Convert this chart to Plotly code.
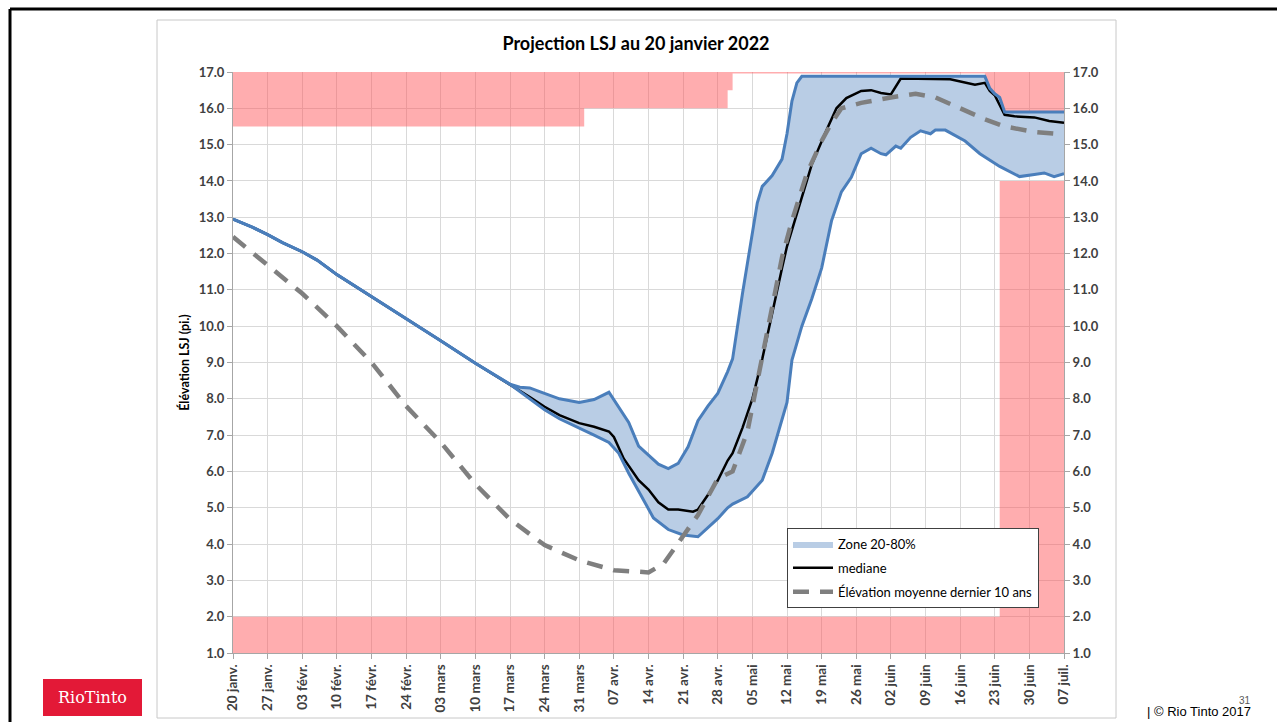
import plotly.graph_objects as go
import pandas as pd

# ---------------- data ----------------
title_text = "Projection LSJ au 20 janvier 2022"
y_title = "Élévation LSJ (pi.)"
x_start, x_end = "2022-01-20", "2022-07-07"
y_min, y_max = 1.0, 17.0

tick_dates = [d.strftime("%Y-%m-%d") for d in pd.date_range(x_start, x_end, freq="7D")]
tick_labels = ["20 janv.", "27 janv.", "03 févr.", "10 févr.", "17 févr.", "24 févr.",
               "03 mars", "10 mars", "17 mars", "24 mars", "31 mars", "07 avr.",
               "14 avr.", "21 avr.", "28 avr.", "05 mai", "12 mai", "19 mai",
               "26 mai", "02 juin", "09 juin", "16 juin", "23 juin", "30 juin", "07 juil."]

# upper red zone: lower edge of the forbidden zone (step function)
upper_lim_dates = ["2022-01-20", "2022-04-01", "2022-04-30", "2022-05-01", "2022-06-21", "2022-07-07"]
upper_lim_vals = [15.5, 16.0, 16.5, 16.96, 15.9, 15.9]
# lower red zone: upper edge of the forbidden zone (step function)
lower_lim_dates = ["2022-01-20", "2022-06-24", "2022-07-07"]
lower_lim_vals = [2.0, 14.0, 14.0]

common_dates = ["2022-01-20", "2022-01-24", "2022-01-27", "2022-01-30", "2022-02-03", "2022-02-06",
                "2022-02-10", "2022-02-17", "2022-02-24", "2022-03-03", "2022-03-10", "2022-03-17"]
common_vals = [12.95, 12.72, 12.52, 12.3, 12.05, 11.82, 11.42, 10.82, 10.22, 9.6, 8.98, 8.4]

p80_dates = common_dates + [
    "2022-03-19", "2022-03-21", "2022-03-23", "2022-03-27", "2022-03-31", "2022-04-03", "2022-04-06",
    "2022-04-08", "2022-04-10", "2022-04-12", "2022-04-14", "2022-04-16", "2022-04-18", "2022-04-20",
    "2022-04-22", "2022-04-24", "2022-04-26", "2022-04-28", "2022-04-30", "2022-05-01", "2022-05-03",
    "2022-05-05", "2022-05-06", "2022-05-07", "2022-05-09", "2022-05-11", "2022-05-12", "2022-05-13",
    "2022-05-14", "2022-05-15", "2022-06-21", "2022-06-22", "2022-06-23", "2022-06-24", "2022-06-25",
    "2022-07-07"]
p80_vals = common_vals + [
    8.32, 8.3, 8.2, 8.0, 7.9, 7.98, 8.18,
    7.75, 7.35, 6.7, 6.45, 6.2, 6.08, 6.22,
    6.68, 7.4, 7.8, 8.15, 8.75, 9.1, 10.9,
    12.6, 13.4, 13.85, 14.15, 14.6, 15.3, 16.2,
    16.7, 16.88, 16.88, 16.55, 16.4, 16.3, 15.9,
    15.9]

p20_dates = common_dates + [
    "2022-03-19", "2022-03-21", "2022-03-24", "2022-03-27", "2022-03-31", "2022-04-03", "2022-04-06",
    "2022-04-08", "2022-04-10", "2022-04-13", "2022-04-15", "2022-04-18", "2022-04-21", "2022-04-24",
    "2022-04-25", "2022-04-28", "2022-04-30", "2022-05-01", "2022-05-04", "2022-05-07", "2022-05-09",
    "2022-05-12", "2022-05-13", "2022-05-15", "2022-05-17", "2022-05-19", "2022-05-21", "2022-05-23",
    "2022-05-25", "2022-05-27", "2022-05-29", "2022-05-31", "2022-06-01", "2022-06-03", "2022-06-04",
    "2022-06-06", "2022-06-08", "2022-06-10", "2022-06-11", "2022-06-13", "2022-06-17", "2022-06-20",
    "2022-06-24", "2022-06-28", "2022-07-01", "2022-07-03", "2022-07-05", "2022-07-07"]
p20_vals = common_vals + [
    8.2, 8.0, 7.7, 7.45, 7.2, 7.0, 6.8,
    6.5, 5.95, 5.2, 4.72, 4.4, 4.25, 4.2,
    4.32, 4.7, 5.0, 5.1, 5.3, 5.76, 6.5,
    7.9, 9.07, 10.0, 10.75, 11.6, 12.9, 13.7,
    14.1, 14.75, 14.9, 14.75, 14.72, 14.96, 14.9,
    15.2, 15.38, 15.3, 15.4, 15.4, 15.1, 14.75,
    14.4, 14.12, 14.18, 14.22, 14.12, 14.2]

median_dates = common_dates + [
    "2022-03-19", "2022-03-21", "2022-03-24", "2022-03-27", "2022-03-31", "2022-04-03", "2022-04-06",
    "2022-04-07", "2022-04-09", "2022-04-12", "2022-04-14", "2022-04-16", "2022-04-18", "2022-04-20",
    "2022-04-23", "2022-04-24", "2022-04-26", "2022-04-28", "2022-04-30", "2022-05-01", "2022-05-03",
    "2022-05-05", "2022-05-07", "2022-05-09", "2022-05-11", "2022-05-12", "2022-05-14", "2022-05-17",
    "2022-05-20", "2022-05-22", "2022-05-24", "2022-05-27", "2022-05-29", "2022-05-31", "2022-06-02",
    "2022-06-03", "2022-06-04", "2022-06-14", "2022-06-17", "2022-06-19", "2022-06-21", "2022-06-22",
    "2022-06-23", "2022-06-25", "2022-06-27", "2022-07-01", "2022-07-04", "2022-07-07"]
median_vals = common_vals + [
    8.22, 8.05, 7.78, 7.55, 7.33, 7.23, 7.1,
    6.95, 6.35, 5.76, 5.5, 5.15, 4.95, 4.95,
    4.89, 4.95, 5.35, 5.75, 6.3, 6.5, 7.2,
    8.0, 9.1, 10.4, 11.6, 12.2, 13.1, 14.45,
    15.4, 16.0, 16.28, 16.48, 16.5, 16.42, 16.38,
    16.62, 16.82, 16.8, 16.72, 16.65, 16.7, 16.48,
    16.36, 15.82, 15.78, 15.75, 15.65, 15.6]

mean10_dates = ["2022-01-20", "2022-01-26", "2022-02-03", "2022-02-10", "2022-02-17", "2022-02-24",
                "2022-03-03", "2022-03-10", "2022-03-17", "2022-03-24", "2022-03-31", "2022-04-07",
                "2022-04-14", "2022-04-17", "2022-04-21", "2022-04-24", "2022-04-28", "2022-05-01",
                "2022-05-04", "2022-05-07", "2022-05-09", "2022-05-11", "2022-05-13", "2022-05-16",
                "2022-05-19", "2022-05-21", "2022-05-23", "2022-05-27", "2022-06-02", "2022-06-07",
                "2022-06-11", "2022-06-16", "2022-06-21", "2022-06-25", "2022-07-01", "2022-07-07"]
mean10_vals = [12.46, 11.8, 10.9, 10.0, 9.0, 7.8,
               6.8, 5.65, 4.68, 3.97, 3.55, 3.28,
               3.22, 3.45, 4.2, 4.8, 5.8, 6.0,
               7.1, 9.2, 10.6, 11.9, 12.9, 14.2,
               15.1, 15.6, 16.0, 16.15, 16.3, 16.4,
               16.3, 16.0, 15.7, 15.5, 15.35, 15.28]

# ---------------- styles ----------------
PINK = "rgba(255,80,84,0.47)"
BAND_FILL = "#b9cde5"
BAND_LINE = "#4a7ebb"
GRID = "#d9d9d9"
FONT = "Lato"

# pixel layout helpers (plot area in pixels)
W, H = 1277, 722
PL, PR, PT, PB = 233, 1064, 72, 653


def px(xp):
    return (xp - PL) / (PR - PL)


def py(yp):
    return (PB - yp) / (PB - PT)


fig = go.Figure()

# forbidden zones
fig.add_trace(go.Scatter(x=upper_lim_dates, y=[y_max] * len(upper_lim_dates), mode="lines",
                         line=dict(width=0, shape="hv"), showlegend=False, hoverinfo="skip"))
fig.add_trace(go.Scatter(x=upper_lim_dates, y=upper_lim_vals, mode="lines",
                         line=dict(width=0, shape="hv"), fill="tonexty", fillcolor=PINK,
                         showlegend=False, hoverinfo="skip"))
fig.add_trace(go.Scatter(x=lower_lim_dates, y=lower_lim_vals, mode="lines",
                         line=dict(width=0, shape="hv"), fill="tozeroy", fillcolor=PINK,
                         showlegend=False, hoverinfo="skip"))

# 20-80% band fill
fig.add_trace(go.Scatter(x=p80_dates, y=p80_vals, mode="lines", line=dict(width=0),
                         showlegend=False, hoverinfo="skip"))
fig.add_trace(go.Scatter(x=p20_dates, y=p20_vals, mode="lines", line=dict(width=0),
                         fill="tonexty", fillcolor=BAND_FILL, name="Zone 20-80%",
                         legendgroup="a", legendrank=1))
# median
fig.add_trace(go.Scatter(x=median_dates, y=median_vals, mode="lines",
                         line=dict(color="black", width=2.5), name="mediane",
                         legendgroup="b", legendrank=2))
# band borders
fig.add_trace(go.Scatter(x=p80_dates, y=p80_vals, mode="lines",
                         line=dict(color=BAND_LINE, width=3), showlegend=False))
fig.add_trace(go.Scatter(x=p20_dates, y=p20_vals, mode="lines",
                         line=dict(color=BAND_LINE, width=3), showlegend=False))
# 10-year mean
fig.add_trace(go.Scatter(x=mean10_dates, y=mean10_vals, mode="lines",
                         line=dict(color="#7f7f7f", width=4.5, dash="16px,11px"),
                         name="Élévation moyenne dernier 10 ans", legendgroup="c", legendrank=3))
# right axis carrier
fig.add_trace(go.Scatter(x=[x_start], y=[y_max], mode="none", yaxis="y2",
                         showlegend=False, hoverinfo="skip"))

y_tick_font = dict(family=FONT, size=13, color="#404040", weight="bold")
x_tick_font = dict(family=FONT, size=13.5, color="#404040", weight="bold")

shapes = [
    # chart frame
    dict(type="rect", xref="paper", yref="paper", x0=px(157), x1=px(1116), y0=py(718), y1=py(20),
         line=dict(color="#c8c8c8", width=1), layer="below"),
    # slide border lines
    dict(type="line", xref="paper", yref="paper", x0=px(10), x1=px(1280), y0=py(9), y1=py(9),
         line=dict(color="black", width=3)),
    dict(type="line", xref="paper", yref="paper", x0=px(10), x1=px(10), y0=py(9), y1=py(725),
         line=dict(color="black", width=3)),
    # logo box
    dict(type="rect", xref="paper", yref="paper", x0=px(43), x1=px(142), y0=py(716), y1=py(679),
         line=dict(width=0), fillcolor="#e31937"),
]

annotations = [
    dict(text="RioTinto", xref="paper", yref="paper", x=px(92.5), y=py(697.5), showarrow=False,
         font=dict(family="DejaVu Serif", size=16, color="white"), xanchor="center", yanchor="middle"),
    dict(text="| © Rio Tinto 2017", xref="paper", yref="paper", x=px(1145), y=py(711), showarrow=False,
         font=dict(family="Liberation Sans", size=13, color="black"), xanchor="left", yanchor="middle"),
    dict(text="31", xref="paper", yref="paper", x=px(1245), y=py(700), showarrow=False,
         font=dict(family="Liberation Sans", size=10, color="#595959"), xanchor="center", yanchor="middle"),
]

fig.update_layout(
    width=W, height=H,
    margin=dict(l=PL, r=W - PR, t=PT, b=H - PB, autoexpand=False),
    paper_bgcolor="white", plot_bgcolor="white",
    title=dict(text=title_text, x=636 / W, y=1 - 44 / H, xanchor="center", yanchor="middle",
               font=dict(family=FONT, size=18, color="black", weight="bold")),
    xaxis=dict(type="date", range=[x_start, x_end], tickvals=tick_dates, ticktext=tick_labels,
               tickangle=-90, tickfont=x_tick_font, showgrid=True, gridcolor=GRID, gridwidth=1,
               showline=True, linecolor="#a6a6a6", ticks="outside", ticklen=5, tickcolor="#a6a6a6",
               zeroline=False, automargin=False),
    yaxis=dict(range=[y_min, y_max], dtick=1, tickformat=".1f", tickfont=y_tick_font,
               showgrid=True, gridcolor=GRID, showline=True, linecolor="#a6a6a6",
               ticks="outside", ticklen=5, tickcolor="#a6a6a6", zeroline=False, automargin=False,
               title=dict(text=y_title, font=dict(family=FONT, size=12.5, color="black", weight="bold"),
                          standoff=6)),
    yaxis2=dict(range=[y_min, y_max], dtick=1, tickformat=".1f", tickfont=y_tick_font,
                overlaying="y", side="right", showgrid=False, showline=True, linecolor="#a6a6a6",
                ticks="outside", ticklen=5, tickcolor="#a6a6a6", zeroline=False, automargin=False),
    legend=dict(x=px(787), y=py(528), xanchor="left", yanchor="top", bgcolor="white",
                bordercolor="#404040", borderwidth=1, traceorder="grouped", tracegroupgap=4,
                itemwidth=40, font=dict(family=FONT, size=13, color="black")),
    shapes=shapes,
    annotations=annotations,
)

fig.write_html("out.html", config={"displayModeBar": False},
               post_script="document.body.style.margin='0';document.body.style.overflow='hidden';")
